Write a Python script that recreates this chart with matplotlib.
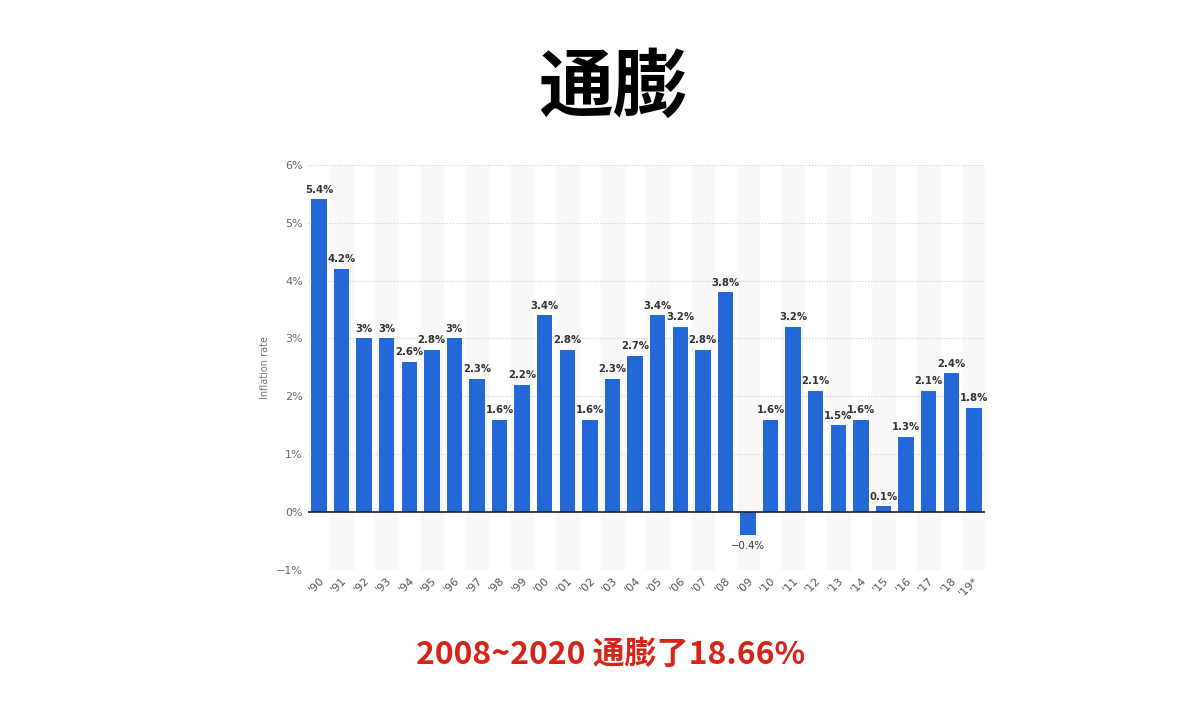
import matplotlib.pyplot as plt
import numpy as np

plt.rcParams['font.family'] = ['Noto Sans CJK SC', 'DejaVu Sans']

years = ["'90", "'91", "'92", "'93", "'94", "'95", "'96", "'97", "'98", "'99",
         "'00", "'01", "'02", "'03", "'04", "'05", "'06", "'07", "'08", "'09",
         "'10", "'11", "'12", "'13", "'14", "'15", "'16", "'17", "'18", "'19*"]
rates = [5.4, 4.2, 3.0, 3.0, 2.6, 2.8, 3.0, 2.3, 1.6, 2.2,
         3.4, 2.8, 1.6, 2.3, 2.7, 3.4, 3.2, 2.8, 3.8, -0.4,
         1.6, 3.2, 2.1, 1.5, 1.6, 0.1, 1.3, 2.1, 2.4, 1.8]

fig = plt.figure(figsize=(11.97, 7.1), dpi=100)
ax = fig.add_axes([0.257, 0.197, 0.566, 0.571])

x = np.arange(len(years))
for i in x:
    if i % 2 == 1:
        ax.axvspan(i - 0.5, i + 0.5, color='#f8f8f8', zorder=0)
ax.bar(x, rates, width=0.68, color='#2468d8', zorder=2)
ax.axhline(0, color='#222222', lw=1.2, zorder=3)

for xi, v in zip(x, rates):
    lab = ('%g%%' % v).replace('-', '\u2212')
    if v >= 0:
        ax.text(xi, v + 0.08, lab, ha='center', va='bottom', fontsize=7.3,
                fontweight='bold', color='#333333', family='DejaVu Sans')
    else:
        ax.text(xi, v - 0.1, lab, ha='center', va='top', fontsize=7.3,
                color='#333333', family='DejaVu Sans')

ax.set_xlim(-0.5, len(years) - 0.5)
ax.set_ylim(-1, 6)
ax.set_yticks(range(-1, 7))
ax.set_yticklabels([('%d%%' % t).replace('-', '\u2212') for t in range(-1, 7)],
                   fontsize=8, color='#666666', family='DejaVu Sans')
ax.grid(axis='y', color='#cccccc', linestyle=':', lw=0.8, zorder=1)
ax.set_xticks(x)
ax.set_xticklabels(years, rotation=45, fontsize=8, color='#555555',
                   ha='right', rotation_mode='anchor', family='DejaVu Sans')
ax.tick_params(length=0)
for s in ax.spines.values():
    s.set_visible(False)
ax.set_ylabel('Inflation rate', fontsize=7, color='#777777', family='DejaVu Sans')

fig.text(0.512, 0.875, '通膨', ha='center', va='center', fontsize=54, fontweight='bold')
fig.text(0.51, 0.077, '2008~2020 通膨了18.66%', ha='center', va='center',
         fontsize=23, fontweight='bold', color='#d62418')

fig.savefig('out.png', dpi=100)
